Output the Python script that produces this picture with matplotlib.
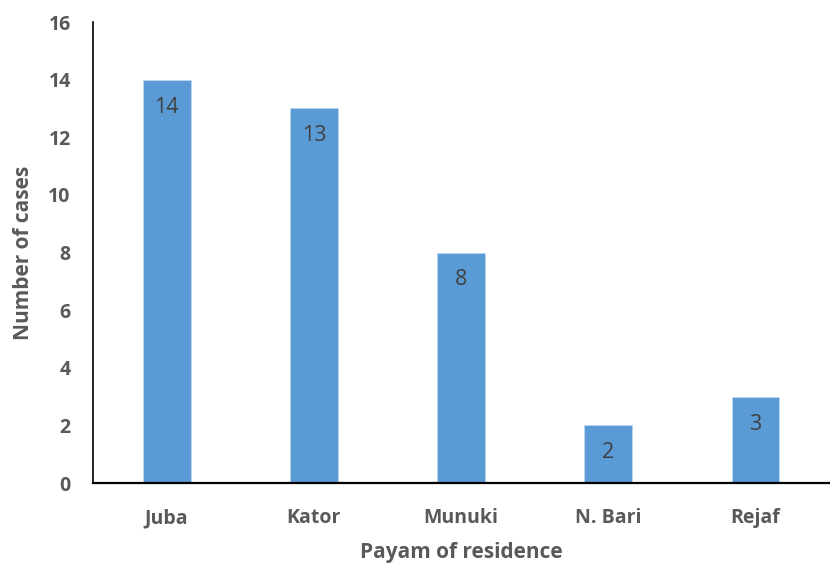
import matplotlib
matplotlib.use('Agg')
import matplotlib.pyplot as plt

# data
payams = ['Juba', 'Kator', 'Munuki', 'N. Bari', 'Rejaf']
cases = [14, 13, 8, 2, 3]
y_ticks = [0, 2, 4, 6, 8, 10, 12, 14, 16]

BAR_COLOR = '#5B9BD5'
TICK_COLOR = '#595959'
LABEL_COLOR = '#404040'

plt.rcParams['font.family'] = ['Open Sans', 'DejaVu Sans']

fig = plt.figure(figsize=(8.3, 5.65), dpi=100)
ax = fig.add_axes([0.112, 0.145, 0.887, 0.816])

x = range(len(payams))
bars = ax.bar(x, cases, width=0.325, color=BAR_COLOR, edgecolor='#BDD7EE', linewidth=0.6)

for b, v in zip(bars, cases):
    ax.text(b.get_x() + b.get_width() / 2, v - 0.95, str(v),
            ha='center', va='center', fontsize=15.5, color=LABEL_COLOR)

ax.set_xlim(-0.5, len(payams) - 0.5)
ax.set_ylim(0, 16)
ax.set_yticks(y_ticks)
ax.set_xticks(list(x))
ax.set_xticklabels(payams)

ax.tick_params(length=0, labelsize=14, labelcolor=TICK_COLOR)
for lab in ax.get_xticklabels() + ax.get_yticklabels():
    lab.set_fontweight('bold')
ax.tick_params(axis='x', pad=18)
ax.tick_params(axis='y', pad=16)

for side in ['top', 'right']:
    ax.spines[side].set_visible(False)
ax.spines['left'].set_linewidth(1.2)
ax.spines['bottom'].set_linewidth(1.6)

ax.set_ylabel('Number of cases', fontsize=15, fontweight='bold', color=TICK_COLOR, labelpad=10)
ax.set_xlabel('Payam of residence', fontsize=15, fontweight='bold', color=TICK_COLOR, labelpad=10)

fig.savefig('out.png', dpi=100)
